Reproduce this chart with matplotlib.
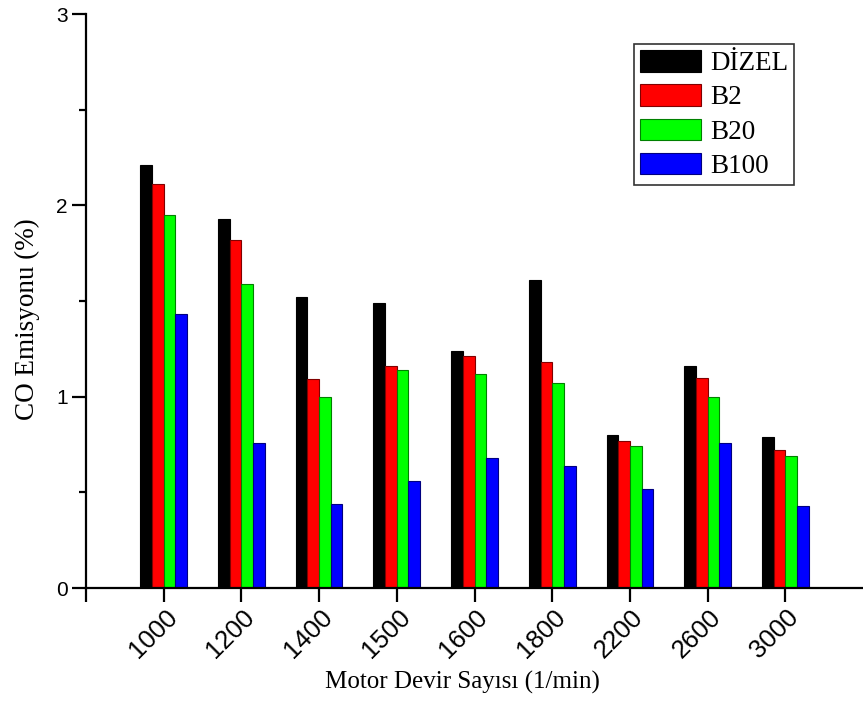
import matplotlib
matplotlib.use("Agg")
import matplotlib.pyplot as plt
import matplotlib.transforms as mtransforms
import numpy as np

categories = ["1000", "1200", "1400", "1500", "1600", "1800", "2200", "2600", "3000"]
dizel = [2.21, 1.93, 1.52, 1.49, 1.24, 1.61, 0.80, 1.16, 0.79]
b2 = [2.11, 1.82, 1.09, 1.16, 1.21, 1.18, 0.77, 1.10, 0.72]
b20 = [1.95, 1.59, 1.00, 1.14, 1.12, 1.07, 0.74, 1.00, 0.69]
b100 = [1.43, 0.76, 0.44, 0.56, 0.68, 0.64, 0.52, 0.76, 0.43]
series_names = ["DİZEL", "B2", "B20", "B100"]

series = [dizel, b2, b20, b100]
colors = ["#000000", "#ff0000", "#00ff00", "#0000ff"]
edges = ["#000000", "#800000", "#008000", "#000080"]

fig = plt.figure(figsize=(8.63, 7.04), dpi=100)
ax = fig.add_axes([86/863, 116/704, 1 - 86/863, (588-14)/704])

x = np.arange(len(categories))
w = 0.15
for i, (vals, c, e, n) in enumerate(zip(series, colors, edges, series_names)):
    ax.bar(x + (i - 1.5) * w, vals, width=w, color=c, edgecolor=e, linewidth=0.8, label=n)

ax.set_xlim(-1, 9)
ax.set_ylim(0, 3)
ax.spines["top"].set_visible(False)
ax.spines["right"].set_visible(False)
for s in ["left", "bottom"]:
    ax.spines[s].set_linewidth(1.6)

ax.set_xticks(np.arange(-1, len(categories)))
ax.set_xticklabels([])
label_tr = ax.get_xaxis_transform() + mtransforms.ScaledTranslation(9.6/100, -25.4/100, fig.dpi_scale_trans)
for xi, cat in zip(x, categories):
    ax.text(xi, 0, cat, transform=label_tr, rotation=45, rotation_mode="anchor",
            ha="right", va="center", fontsize=18.5, family="Liberation Sans", clip_on=False)

ax.set_yticks([0, 1, 2, 3])
ax.set_yticklabels(["0", "1", "2", "3"], fontsize=15, family="Liberation Sans")
ax.set_yticks([0.5, 1.5, 2.5], minor=True)
ax.tick_params(axis="both", which="major", direction="out", length=10, width=1.6, pad=3)
ax.tick_params(axis="y", which="minor", direction="out", length=5, width=1.6)

ax.set_xlabel("Motor Devir Sayısı (1/min)", fontsize=18, family="Liberation Serif")
ax.xaxis.set_label_coords((462 - 86) / 777, (588 - 671) / 574)
ax.set_ylabel("CO Emisyonu (%)", fontsize=19.5, family="Liberation Serif")
ax.yaxis.set_label_coords((40 - 86) / 777, (588 - 319) / 574)

leg = ax.legend(loc="upper left", bbox_to_anchor=(634/863, 1 - 44/704), bbox_transform=fig.transFigure,
                prop={"family": "Liberation Serif", "size": 19.5}, frameon=True, fancybox=False,
                handlelength=2.25, handleheight=0.85, handletextpad=0.35, labelspacing=0.3,
                borderpad=0.22, borderaxespad=0)
leg.get_frame().set_edgecolor("black")
leg.get_frame().set_linewidth(1.2)

fig.savefig("out.png", dpi=100)
